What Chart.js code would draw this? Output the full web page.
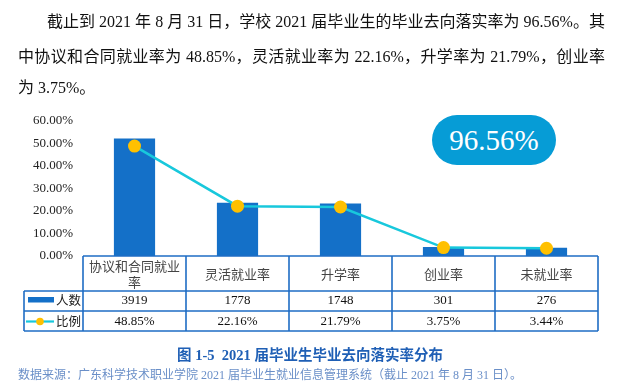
<!DOCTYPE html>
<html><head><meta charset="utf-8">
<script src="https://cdn.jsdelivr.net/npm/chart.js@4/dist/chart.umd.min.js"></script>
<style>
html,body{margin:0;padding:0;background:#fff;}
#wrap{position:relative;width:640px;height:384px;overflow:hidden;}
#c{position:absolute;left:0;top:0;}
.p{position:absolute;left:18px;width:587px;font-family:"Liberation Serif","Noto Sans CJK SC",serif;font-size:16px;color:#111;white-space:nowrap;line-height:20px;}
.j{text-align:justify;text-align-last:justify;}
#cap{position:absolute;left:0;width:620px;top:343px;text-align:center;font-family:"Liberation Serif","Noto Sans CJK SC",serif;font-weight:bold;font-size:14.5px;color:#1F5FB5;}
#src{position:absolute;left:18px;top:365px;font-family:"Liberation Serif","Noto Sans CJK SC",serif;font-size:12px;color:#6A8FC8;white-space:nowrap;}
#pill{position:absolute;left:432px;top:115px;width:124px;height:50px;border-radius:25px;background:#069CD6;color:#fff;font-family:"Liberation Serif",serif;font-size:29px;line-height:50px;text-align:center;}
</style></head>
<body><div id="wrap">
<canvas id="c" width="640" height="384"></canvas>
<div class="p j" style="top:12px;left:47px;width:558px;">截止到 2021 年 8 月 31 日，学校 2021 届毕业生的毕业去向落实率为 96.56%。其</div>
<div class="p j" style="top:47px;">中协议和合同就业率为 48.85%，灵活就业率为 22.16%，升学率为 21.79%，创业率</div>
<div class="p" style="top:78px;">为 3.75%。</div>
<div id="pill">96.56%</div>
<div id="cap">图 1-5&nbsp; 2021 届毕业生毕业去向落实率分布</div>
<div id="src">数据来源：广东科学技术职业学院 2021 届毕业生就业信息管理系统（截止 2021 年 8 月 31 日）。</div>
</div>
<script>
const categories = ["协议和合同就业率","灵活就业率","升学率","创业率","未就业率"];
const categoryLines = [["协议和合同就业","率"],["灵活就业率"],["升学率"],["创业率"],["未就业率"]];
const counts = [3919,1778,1748,301,276];
const ratios = [48.85,22.16,21.79,3.75,3.44];
const ratioLabels = ["48.85%","22.16%","21.79%","3.75%","3.44%"];
const seriesNames = ["人数","比例"];

const BLUE = "#1470C8", CYAN = "#18C8DC", GOLD = "#FFC000", BORDER = "#1E6CC4";

const tablePlugin = {
  id: "tablePlugin",
  afterDraw(chart) {
    const ctx = chart.ctx, x = chart.scales.x, area = chart.chartArea;
    const left = area.left, right = area.right, n = categories.length;
    const colW = (right - left) / n;
    const t0 = area.bottom, r1 = 291, r2 = 311, r3 = 331, legL = 24;
    ctx.save();
    ctx.strokeStyle = BORDER; ctx.lineWidth = 1.6;
    const hl = (x1, x2, y) => { ctx.beginPath(); ctx.moveTo(x1, y); ctx.lineTo(x2, y); ctx.stroke(); };
    const vl = (xx, y1, y2) => { ctx.beginPath(); ctx.moveTo(xx, y1); ctx.lineTo(xx, y2); ctx.stroke(); };
    hl(left, right, t0); hl(legL, right, r1); hl(legL, right, r2); hl(legL, right, r3);
    for (let i = 0; i <= n; i++) vl(left + i * colW, t0, r3);
    vl(legL, r1, r3);
    ctx.textAlign = "center"; ctx.textBaseline = "middle";
    ctx.fillStyle = "#444";
    ctx.font = '13px "Noto Sans CJK SC", sans-serif';
    for (let i = 0; i < n; i++) {
      const cx = x.getPixelForValue(i);
      const lines = categoryLines[i];
      if (lines.length === 2) {
        ctx.fillText(lines[0], cx, 266); ctx.fillText(lines[1], cx, 282);
      } else ctx.fillText(lines[0], cx, 274);
    }
    ctx.fillStyle = "#111";
    ctx.font = '13px "Liberation Serif", serif';
    for (let i = 0; i < n; i++) {
      const cx = x.getPixelForValue(i);
      ctx.fillText(String(counts[i]), cx, 301);
      ctx.fillText(ratioLabels[i], cx, 322);
    }
    // legend cells
    ctx.fillStyle = BLUE; ctx.fillRect(28, 297, 26, 5.5);
    ctx.strokeStyle = CYAN; ctx.lineWidth = 2.2; hl(26, 54, 321.5);
    ctx.fillStyle = GOLD; ctx.beginPath(); ctx.arc(40, 321.5, 3.8, 0, Math.PI * 2); ctx.fill();
    ctx.fillStyle = "#222"; ctx.textAlign = "left";
    ctx.font = '12.5px "Noto Sans CJK SC", sans-serif';
    ctx.fillText(seriesNames[0], 56, 300.5);
    ctx.fillText(seriesNames[1], 56, 321.5);
    ctx.restore();
  }
};

new Chart(document.getElementById("c"), {
  data: {
    labels: categories,
    datasets: [
      { type: "line", label: seriesNames[1], data: ratios, yAxisID: "y", order: 0,
        borderColor: CYAN, borderWidth: 2.5, pointBackgroundColor: GOLD, pointBorderColor: GOLD,
        pointRadius: 6.5, pointBorderWidth: 0, tension: 0 },
      { type: "bar", label: seriesNames[0], data: counts, yAxisID: "y1", order: 1,
        backgroundColor: BLUE, borderColor: "#5A9BE0", borderWidth: 0, barPercentage: 0.4, categoryPercentage: 1 }
    ]
  },
  options: {
    responsive: false, animation: false,
    layout: { padding: { left: 13, right: 42, top: 121, bottom: 128 } },
    plugins: { legend: { display: false }, tooltip: { enabled: false } },
    scales: {
      x: { display: false, offset: true },
      y: { min: 0, max: 60, position: "left",
        ticks: { stepSize: 10, padding: 10, color: "#222",
          font: { family: "Liberation Serif", size: 13 },
          callback: v => v.toFixed(2) + "%" },
        grid: { display: false, drawTicks: false }, border: { display: false },
        afterFit: s => { s.width = 70; } },
      y1: { display: false, min: 0, max: 4500 }
    }
  },
  plugins: [tablePlugin]
});
</script>
</body></html>
